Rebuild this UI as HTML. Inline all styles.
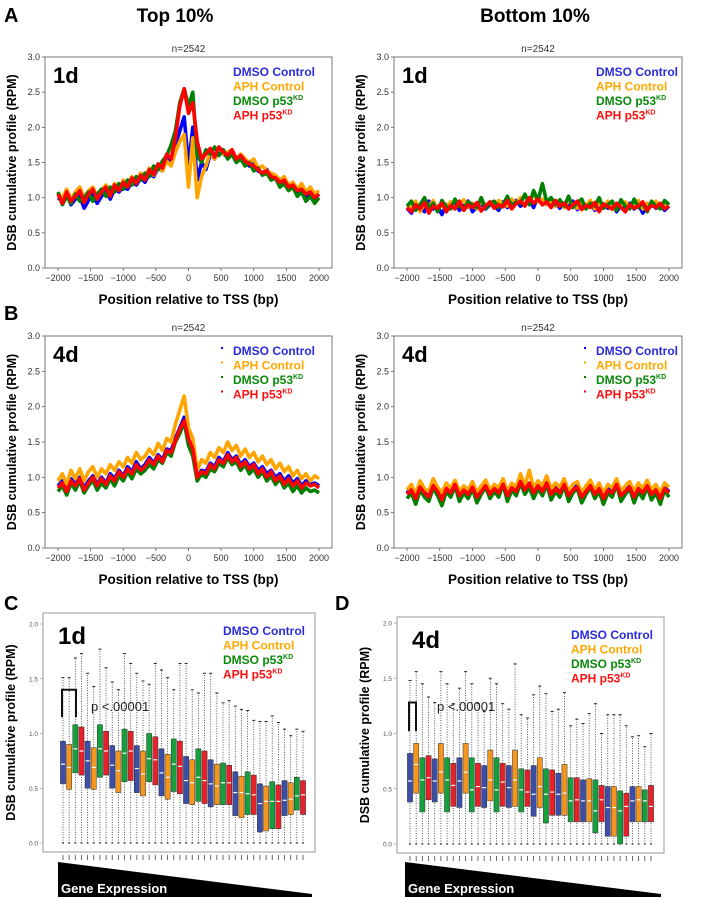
<!DOCTYPE html>
<html><head><meta charset="utf-8"><style>
html,body{margin:0;padding:0;background:#fff;}
svg{display:block;font-family:"Liberation Sans",sans-serif;}
</style></head><body>
<svg id="fig" width="708" height="900" viewBox="0 0 708 900">
<text x="4" y="22" font-size="20" font-weight="bold">A</text>
<text x="175" y="22" font-size="19" font-weight="bold" text-anchor="middle">Top 10%</text>
<text x="535" y="22" font-size="19" font-weight="bold" text-anchor="middle">Bottom 10%</text>
<text x="4" y="320" font-size="20" font-weight="bold">B</text>
<text x="4" y="610" font-size="20" font-weight="bold">C</text>
<text x="335" y="610" font-size="20" font-weight="bold">D</text>
</svg>
<script>
const xTicks=[-2000,-1500,-1000,-500,0,500,1000,1500,2000];
const yTicksLine=[0,0.5,1.0,1.5,2.0,2.5,3.0];
const yTicksBox=[0,0.5,1.0,1.5,2.0];
const seriesNames=["DMSO Control","APH Control","DMSO p53","APH p53"];
const aLeftBlue=[1.00,0.95,1.05,0.90,0.98,1.02,0.85,0.96,1.05,0.92,1.02,1.10,0.98,1.12,1.08,1.15,1.12,1.22,1.18,1.28,1.22,1.35,1.30,1.42,1.38,1.55,1.50,1.75,1.95,2.15,1.45,2.00,1.25,1.50,1.40,1.62,1.55,1.68,1.62,1.58,1.65,1.52,1.58,1.50,1.45,1.48,1.38,1.35,1.40,1.28,1.30,1.20,1.25,1.12,1.18,1.08,1.12,1.02,1.08,0.98,1.05];
const aLeftOrange=[1.05,1.00,1.12,0.98,1.08,1.15,1.00,1.10,1.15,1.02,1.10,1.18,1.05,1.20,1.12,1.25,1.18,1.30,1.22,1.35,1.28,1.42,1.32,1.45,1.38,1.52,1.45,1.65,1.80,1.90,1.15,1.85,1.00,1.30,1.45,1.65,1.55,1.70,1.62,1.65,1.68,1.55,1.62,1.55,1.50,1.55,1.42,1.45,1.38,1.35,1.32,1.25,1.30,1.18,1.22,1.12,1.20,1.08,1.15,1.05,1.10];
const aLeftGreen=[1.08,0.90,1.02,0.92,1.05,0.95,1.00,1.08,0.95,1.05,1.12,1.02,1.15,1.08,1.20,1.12,1.25,1.18,1.30,1.25,1.35,1.30,1.45,1.40,1.52,1.60,1.75,1.95,2.35,2.55,2.30,2.50,1.60,1.50,1.68,1.62,1.72,1.60,1.68,1.55,1.62,1.50,1.55,1.45,1.50,1.38,1.42,1.32,1.35,1.25,1.28,1.15,1.20,1.10,1.15,1.02,1.08,0.95,1.02,0.92,1.00];
const aLeftRed=[1.05,0.92,1.08,0.95,1.02,1.10,0.93,1.05,1.12,0.98,1.08,1.15,1.02,1.18,1.10,1.22,1.15,1.28,1.20,1.32,1.25,1.40,1.33,1.48,1.42,1.62,1.55,1.85,2.30,2.55,2.20,2.35,1.80,1.55,1.62,1.70,1.58,1.72,1.65,1.60,1.68,1.55,1.60,1.52,1.48,1.45,1.40,1.35,1.38,1.30,1.28,1.22,1.25,1.15,1.18,1.10,1.12,1.05,1.08,1.00,1.05];
const aRightBlue=[0.85,0.78,0.92,0.86,0.80,0.95,0.84,0.88,0.76,0.90,0.86,0.93,0.82,0.88,0.95,0.80,0.87,0.92,0.84,0.90,0.88,0.82,0.94,0.86,0.90,0.96,0.88,0.92,0.98,0.86,1.02,0.90,0.95,0.88,0.93,0.85,0.92,0.87,0.95,0.83,0.90,0.86,0.94,0.82,0.88,0.91,0.85,0.93,0.80,0.89,0.87,0.92,0.84,0.90,0.78,0.88,0.93,0.85,0.90,0.82,0.88];
const aRightOrange=[0.90,0.84,0.95,0.80,0.92,0.87,0.96,0.83,0.90,0.88,0.94,0.85,0.91,0.97,0.86,0.92,0.84,0.95,0.89,0.93,0.85,0.96,0.90,0.88,0.98,0.92,1.00,0.90,0.95,1.05,0.94,0.98,0.90,0.96,0.88,0.94,0.86,0.97,0.90,0.85,0.93,0.89,0.96,0.84,0.91,0.87,0.95,0.83,0.92,0.88,0.94,0.86,0.90,0.96,0.84,0.92,0.88,0.95,0.85,0.90,0.93];
const aRightGreen=[0.88,0.95,0.82,0.90,1.00,0.85,0.92,0.80,0.96,0.87,0.84,0.98,0.88,0.83,0.94,0.90,0.86,1.00,0.85,0.92,0.95,0.86,0.90,1.02,0.88,0.94,0.92,1.05,0.90,1.10,0.96,1.20,0.94,1.00,0.90,0.97,0.88,1.02,0.86,0.93,0.98,0.84,0.92,0.88,1.00,0.85,0.90,0.95,0.82,0.97,0.88,0.84,0.98,0.86,0.92,0.80,0.95,0.88,0.84,0.96,0.90];
const aRightRed=[0.86,0.80,0.90,0.84,0.93,0.78,0.88,0.85,0.92,0.80,0.89,0.84,0.95,0.82,0.90,0.86,0.93,0.81,0.88,0.94,0.85,0.90,0.87,0.96,0.84,0.92,0.95,0.88,1.00,0.92,0.98,0.90,0.94,0.86,0.96,0.88,0.92,0.84,0.90,0.95,0.83,0.89,0.86,0.93,0.80,0.91,0.87,0.84,0.92,0.86,0.80,0.90,0.85,0.88,0.94,0.82,0.89,0.86,0.92,0.84,0.88];
const bLeftBlue=[0.88,0.95,0.82,0.98,0.90,1.00,0.85,0.95,1.02,0.90,1.00,0.92,1.05,0.98,1.10,1.02,1.15,1.08,1.22,1.12,1.18,1.28,1.20,1.32,1.25,1.40,1.38,1.55,1.70,1.85,1.50,1.35,1.00,1.10,1.08,1.20,1.15,1.28,1.22,1.35,1.25,1.30,1.18,1.25,1.15,1.20,1.10,1.15,1.05,1.10,1.00,1.05,0.95,1.02,0.92,0.98,0.88,0.95,0.90,0.92,0.88];
const bLeftOrange=[0.95,1.05,0.90,1.10,0.98,1.12,0.95,1.08,1.15,1.00,1.12,1.05,1.18,1.10,1.22,1.15,1.28,1.20,1.35,1.25,1.30,1.40,1.32,1.48,1.38,1.55,1.50,1.75,1.95,2.15,1.70,1.55,1.10,1.25,1.20,1.35,1.28,1.42,1.35,1.50,1.38,1.45,1.30,1.40,1.28,1.35,1.22,1.30,1.18,1.25,1.12,1.20,1.08,1.15,1.02,1.10,0.98,1.05,0.95,1.02,0.98];
const bLeftGreen=[0.80,0.88,0.75,0.92,0.82,0.95,0.78,0.88,0.96,0.82,0.92,0.85,0.98,0.88,1.02,0.95,1.08,0.98,1.12,1.05,1.10,1.18,1.12,1.25,1.20,1.35,1.30,1.50,1.62,1.78,1.45,1.30,0.95,1.05,1.00,1.12,1.08,1.20,1.15,1.28,1.18,1.22,1.10,1.18,1.05,1.12,1.00,1.08,0.95,1.02,0.90,0.98,0.85,0.92,0.80,0.88,0.78,0.85,0.80,0.82,0.78];
const bLeftRed=[0.85,0.92,0.80,0.95,0.88,0.98,0.82,0.92,1.00,0.88,0.98,0.90,1.02,0.95,1.08,1.00,1.12,1.05,1.18,1.10,1.15,1.25,1.18,1.30,1.22,1.38,1.35,1.52,1.68,1.80,1.55,1.40,1.00,1.08,1.05,1.18,1.12,1.25,1.20,1.32,1.22,1.28,1.15,1.22,1.12,1.18,1.05,1.12,1.00,1.08,0.95,1.02,0.90,0.98,0.88,0.95,0.85,0.92,0.88,0.90,0.85];
const bRightBlue=[0.78,0.85,0.72,0.88,0.80,0.75,0.90,0.82,0.70,0.86,0.80,0.92,0.76,0.84,0.78,0.88,0.74,0.82,0.90,0.78,0.85,0.80,0.92,0.76,0.86,0.82,0.95,0.84,0.90,0.80,0.88,0.82,0.94,0.78,0.86,0.80,0.92,0.76,0.84,0.88,0.74,0.82,0.90,0.78,0.86,0.72,0.84,0.80,0.92,0.76,0.82,0.88,0.74,0.86,0.80,0.90,0.78,0.84,0.72,0.86,0.80];
const bRightOrange=[0.82,0.90,0.76,0.95,0.84,0.80,0.98,0.86,0.78,0.92,0.84,0.96,0.80,0.88,0.82,0.94,0.78,0.88,0.96,0.82,0.90,0.85,0.98,0.80,0.92,0.86,1.05,0.88,1.10,0.85,0.95,0.88,1.02,0.84,0.92,0.86,0.98,0.80,0.90,0.94,0.78,0.88,0.96,0.82,0.92,0.78,0.90,0.85,0.98,0.80,0.88,0.94,0.80,0.92,0.84,0.96,0.82,0.90,0.78,0.92,0.86];
const bRightGreen=[0.70,0.78,0.62,0.82,0.72,0.66,0.85,0.74,0.60,0.80,0.72,0.88,0.66,0.78,0.70,0.84,0.64,0.76,0.86,0.70,0.80,0.72,0.90,0.66,0.82,0.74,0.92,0.76,0.86,0.70,0.84,0.74,0.90,0.68,0.80,0.72,0.88,0.66,0.78,0.84,0.64,0.76,0.86,0.70,0.80,0.62,0.78,0.72,0.90,0.66,0.76,0.84,0.64,0.80,0.70,0.86,0.68,0.78,0.62,0.82,0.72];
const bRightRed=[0.76,0.82,0.70,0.86,0.78,0.72,0.88,0.80,0.68,0.84,0.78,0.90,0.74,0.82,0.76,0.86,0.72,0.80,0.88,0.76,0.84,0.78,0.90,0.74,0.85,0.80,0.94,0.82,0.92,0.78,0.88,0.80,0.92,0.76,0.84,0.78,0.90,0.74,0.82,0.86,0.72,0.80,0.88,0.76,0.84,0.70,0.82,0.78,0.90,0.74,0.80,0.86,0.72,0.84,0.78,0.88,0.76,0.82,0.70,0.84,0.78];
// box plots (order: blue, orange, green, red repeating)
const c1dQ3=[0.93,0.90,1.08,1.06,0.93,0.87,1.08,1.02,0.89,0.84,1.04,1.02,0.89,0.84,1.00,0.97,0.86,0.81,0.95,0.93,0.79,0.76,0.86,0.84,0.76,0.72,0.73,0.71,0.65,0.61,0.65,0.62,0.54,0.52,0.56,0.53,0.57,0.55,0.60,0.57];
const c1dQ1=[0.54,0.49,0.64,0.62,0.50,0.49,0.60,0.62,0.50,0.46,0.56,0.57,0.46,0.43,0.56,0.53,0.43,0.40,0.47,0.45,0.36,0.35,0.38,0.36,0.33,0.35,0.35,0.35,0.25,0.23,0.26,0.26,0.10,0.11,0.13,0.13,0.25,0.26,0.30,0.26];
const c1dMed=[0.72,0.69,0.86,0.84,0.75,0.69,0.86,0.84,0.71,0.66,0.82,0.84,0.68,0.63,0.77,0.76,0.64,0.60,0.72,0.70,0.57,0.55,0.60,0.57,0.54,0.52,0.55,0.55,0.46,0.46,0.45,0.44,0.36,0.38,0.38,0.38,0.39,0.40,0.43,0.44];
const c1dWhisk=[1.51,1.51,1.69,1.73,1.55,1.43,1.77,1.60,1.47,1.40,1.73,1.64,1.55,1.48,1.45,1.64,1.58,1.51,1.40,1.64,1.64,1.40,1.37,1.55,1.55,1.37,1.28,1.30,1.25,1.22,1.21,1.12,1.11,1.11,1.16,1.10,1.04,0.98,1.04,1.02];
const d4dQ3=[0.82,0.91,0.78,0.80,0.77,0.91,0.78,0.73,0.78,0.91,0.78,0.73,0.71,0.85,0.78,0.73,0.71,0.85,0.68,0.67,0.71,0.78,0.68,0.67,0.64,0.72,0.60,0.60,0.58,0.59,0.58,0.53,0.52,0.52,0.48,0.46,0.52,0.52,0.49,0.53];
const d4dQ1=[0.38,0.46,0.29,0.40,0.38,0.46,0.29,0.34,0.33,0.46,0.29,0.34,0.33,0.39,0.29,0.34,0.33,0.34,0.29,0.34,0.25,0.33,0.19,0.26,0.26,0.26,0.20,0.20,0.20,0.20,0.10,0.20,0.07,0.07,0.00,0.07,0.20,0.20,0.20,0.20];
const d4dMed=[0.57,0.72,0.58,0.60,0.57,0.65,0.58,0.53,0.57,0.65,0.49,0.52,0.51,0.58,0.49,0.56,0.51,0.58,0.49,0.47,0.45,0.52,0.45,0.47,0.45,0.46,0.39,0.40,0.39,0.39,0.30,0.40,0.33,0.33,0.30,0.34,0.39,0.40,0.39,0.34];
const d4dWhisk=[1.48,1.56,1.45,1.33,1.28,1.56,1.45,1.27,1.41,1.56,1.45,1.27,1.20,1.50,1.45,1.27,1.22,1.63,1.17,1.14,1.35,1.43,1.36,1.20,1.22,1.37,1.07,1.13,1.09,1.18,1.27,1.00,1.17,1.17,1.17,1.07,0.97,0.98,0.88,1.00];

const NS="http://www.w3.org/2000/svg";
const svg=document.getElementById('fig');
function mk(tag,attrs,parent,text){const e=document.createElementNS(NS,tag);for(const k in attrs)e.setAttribute(k,attrs[k]);if(text!==undefined)e.textContent=text;(parent||svg).appendChild(e);return e;}
const lineColors=["#0000ff","#ffa500","#008000","#ff0000"];
const legendColors=["#2b2bdd","#ffa800","#0a8a0a","#ff1010"];
const boxColors=["#3c4ea8","#f4961e","#16a03c","#e8202a"];

function legend(g,x,y0,step,dots){
  for(let i=0;i<4;i++){
    const t=mk('text',{x:x,y:y0+i*step,'font-size':12,'font-weight':'bold',fill:legendColors[i]},g);
    
    
    t.textContent=seriesNames[i];
    if(i>=2){mk('tspan',{'font-size':7,dy:-5},t,'KD');}
    if(dots){const d=mk('rect',{x:x-12,y:y0+i*step-8,width:2,height:2,fill:lineColors[i]},g);
      }
  }
}

function linePanel(name,fx0,fx1,fy0,fy1,seriesArr,day,legX,dots){
  const g=mk('g',{},svg);
  
  
  const xs=v=>fx0+13+(v+2000)/4000*(fx1-fx0-26);
  const ys=v=>fy1-v/3*(fy1-fy0);
  const cx=(fx0+fx1)/2;
  const ttl=mk('text',{x:cx,y:fy0-5,'font-size':10,'text-anchor':'middle',fill:'#333'},g,'n=2542');
  
  yTicksLine.forEach(v=>{
    mk('line',{x1:fx0-3,x2:fx0,y1:ys(v),y2:ys(v),stroke:'#555','stroke-width':0.8},g);
    const t=mk('text',{x:fx0-5,y:ys(v)+3,'font-size':9,'text-anchor':'end',fill:'#333'},g,v.toFixed(1));
    
  });
  xTicks.forEach(v=>{
    mk('line',{x1:xs(v),x2:xs(v),y1:fy1,y2:fy1+3,stroke:'#555','stroke-width':0.8},g);
    const t=mk('text',{x:xs(v),y:fy1+13,'font-size':9,'text-anchor':'middle',fill:'#333'},g,v<0?'\u2212'+(-v):String(v));
    
  });
  seriesArr.forEach((arr,si)=>{
    const n=arr.length;
    const pts=arr.map((v,i)=>xs(-2000+i*4000/(n-1)).toFixed(1)+','+ys(v).toFixed(1)).join(' ');
    const p=mk('polyline',{points:pts,fill:'none',stroke:lineColors[si],'stroke-width':3.6,'stroke-linejoin':'round'},g);
    
    
  });
  const fr=mk('rect',{x:fx0,y:fy0,width:fx1-fx0,height:fy1-fy0,fill:'none',stroke:'#777','stroke-width':1},g);
  
  const dl=mk('text',{x:fx0+8,y:fy0+26,'font-size':22,'font-weight':'bold'},g,day);
  
  legend(g,legX,fy0+19,14.5,dots);
  const xl=mk('text',{x:cx,y:fy1+36,'font-size':13.5,'font-weight':'bold','text-anchor':'middle'},g,'Position relative to TSS (bp)');
  
  const ycx=fx0-29, ycy=(fy0+fy1)/2;
  const yl=mk('text',{x:ycx,y:ycy,'font-size':12.5,'font-weight':'bold','text-anchor':'middle',transform:`rotate(-90 ${ycx} ${ycy})`},g,'DSB cumulative profile (RPM)');
  
}

linePanel('panel-a-top-1d',45,332,57,268,[aLeftBlue,aLeftOrange,aLeftGreen,aLeftRed],'1d',233,false);
linePanel('panel-a-bottom-1d',394,682,57,268,[aRightBlue,aRightOrange,aRightGreen,aRightRed],'1d',596,false);
linePanel('panel-b-top-4d',45,332,336,548,[bLeftBlue,bLeftOrange,bLeftGreen,bLeftRed],'4d',233,true);
linePanel('panel-b-bottom-4d',394,682,336,548,[bRightBlue,bRightOrange,bRightGreen,bRightRed],'4d',596,true);

function boxPanel(name,fx0,fx1,fy0,fy1,y2px,y0px,firstX,lastX,q1,med,q3,wh,day,legX,brX0,brX1,brTop,brBot,pX){
  const g=mk('g',{},svg);
  
  
  const ys=v=>y0px-v/2*(y0px-y2px);
  const n=q1.length;
  const xs=i=>firstX+i*(lastX-firstX)/(n-1);
  const fr=mk('rect',{x:fx0,y:fy0,width:fx1-fx0,height:fy1-fy0,fill:'none',stroke:'#999','stroke-width':1},g);
  
  yTicksBox.forEach(v=>{
    mk('line',{x1:fx0-3,x2:fx0,y1:ys(v),y2:ys(v),stroke:'#888','stroke-width':0.6},g);
    const t=mk('text',{x:fx0-5,y:ys(v)+2.5,'font-size':6.5,'text-anchor':'end',fill:'#555'},g,v.toFixed(1));
    
  });
  for(let i=0;i<n;i++){
    const x=xs(i);
    mk('line',{x1:x,x2:x,y1:fy1+3,y2:fy1+8,stroke:'#444','stroke-width':0.8},g);
    mk('line',{x1:x,x2:x,y1:ys(0),y2:ys(q1[i]),stroke:'#333','stroke-width':0.8,'stroke-dasharray':'1,1.5'},g);
    mk('line',{x1:x,x2:x,y1:ys(q3[i]),y2:ys(wh[i]),stroke:'#333','stroke-width':0.8,'stroke-dasharray':'1,1.5'},g);
    mk('line',{x1:x-1.5,x2:x+1.5,y1:ys(wh[i]),y2:ys(wh[i]),stroke:'#222','stroke-width':1},g);
    mk('line',{x1:x-1,x2:x+1,y1:ys(0),y2:ys(0),stroke:'#222','stroke-width':1},g);
    const b=mk('rect',{x:x-2.6,y:ys(q3[i]),width:5.2,height:ys(q1[i])-ys(q3[i]),fill:boxColors[i%4],stroke:'#333','stroke-width':0.5},g);
    
    
    const m=mk('line',{x1:x-2,x2:x+2,y1:ys(med[i]),y2:ys(med[i]),stroke:'#fff','stroke-width':1.2},g);
    
    
  }
  const br=mk('polyline',{points:`${brX0},${ys(brBot)} ${brX0},${ys(brTop)} ${brX1},${ys(brTop)} ${brX1},${ys(brBot)}`,fill:'none',stroke:'#111','stroke-width':2},g);
  
  const pt=mk('text',{x:pX,y:ys(1.25)+5,'font-size':13,fill:'#222'},g,'p <.00001');
  
  const dl=mk('text',{x:fx0+15,y:fy0+31,'font-size':24,'font-weight':'bold'},g,day);
  
  legend(g,legX,fy0+22,14.5,false);
  const ycx=fx0-28, ycy=(fy0+fy1)/2;
  const yl=mk('text',{x:ycx,y:ycy,'font-size':12.5,'font-weight':'bold','text-anchor':'middle',transform:`rotate(-90 ${ycx} ${ycy})`},g,'DSB cumulative profile (RPM)');
  
  const tx0=firstX-5, tx1=fx1-3;
  const tri=mk('polygon',{points:`${tx0},862 ${tx1},894 ${tx1},897 ${tx0},897`,fill:'#000'},g);
  
  const ge=mk('text',{x:tx0+3,y:893,'font-size':13,'font-weight':'bold',fill:'#fff'},g,'Gene Expression');
  
}
boxPanel('panel-c-boxplot-1d',43,315,613,852,624,843,63,303,c1dQ1,c1dMed,c1dQ3,c1dWhisk,'1d',223,62,76,1.40,1.15,91);
boxPanel('panel-d-boxplot-4d',397,664,617,853,623,844,410,651,d4dQ1,d4dMed,d4dQ3,d4dWhisk,'4d',571,409,416,1.28,1.02,437);
</script>
</body></html>
